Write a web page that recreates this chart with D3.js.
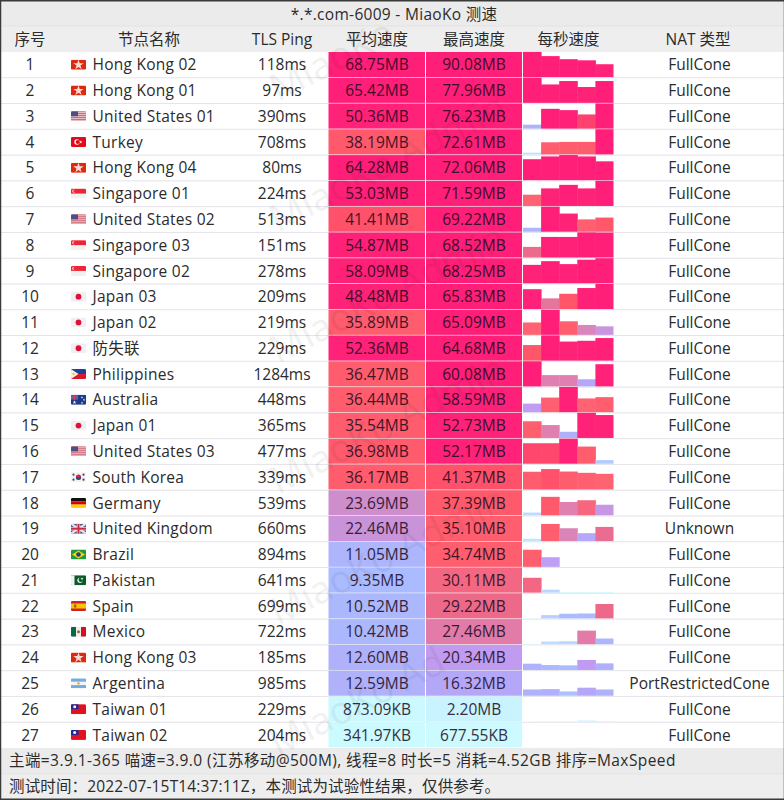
<!DOCTYPE html>
<html>
<head>
<meta charset="utf-8">
<script src="https://cdn.jsdelivr.net/npm/d3@7"></script>
<style>
  html, body { margin: 0; padding: 0; background: #fff; }
  svg { display: block; }
  text { font-family: "Open Sans", "Noto Sans CJK SC", sans-serif; font-size: 15.5px; fill: #2b2b2b; }
</style>
</head>
<body>
<script>
var titleText = "*.*.com-6009 - MiaoKo 测速";
var columnNames = ["序号", "节点名称", "TLS Ping", "平均速度", "最高速度", "每秒速度", "NAT 类型"];
var footerLines = [
  "主端=3.9.1-365 喵速=3.9.0 (江苏移动@500M), 线程=8 时长=5 消耗=4.52GB 排序=MaxSpeed",
  "测试时间：2022-07-15T14:37:11Z，本测试为试验性结果，仅供参考。"
];

var nodeNames = ["Hong Kong 02", "Hong Kong 01", "United States 01", "Turkey", "Hong Kong 04", "Singapore 01",
  "United States 02", "Singapore 03", "Singapore 02", "Japan 03", "Japan 02", "防失联", "Philippines", "Australia",
  "Japan 01", "United States 03", "South Korea", "Germany", "United Kingdom", "Brazil", "Pakistan", "Spain",
  "Mexico", "Hong Kong 03", "Argentina", "Taiwan 01", "Taiwan 02"];
var nodeFlags = ["hk", "hk", "us", "tr", "hk", "sg", "us", "sg", "sg", "jp", "jp", "jp", "ph", "au", "jp", "us", "kr",
  "de", "gb", "br", "pk", "es", "mx", "hk", "ar", "tw", "tw"];
var pings = ["118ms", "97ms", "390ms", "708ms", "80ms", "224ms", "513ms", "151ms", "278ms", "209ms", "219ms", "229ms",
  "1284ms", "448ms", "365ms", "477ms", "339ms", "539ms", "660ms", "894ms", "641ms", "699ms", "722ms", "185ms",
  "985ms", "229ms", "204ms"];
var avgSpeeds = ["68.75MB", "65.42MB", "50.36MB", "38.19MB", "64.28MB", "53.03MB", "41.41MB", "54.87MB", "58.09MB",
  "48.48MB", "35.89MB", "52.36MB", "36.47MB", "36.44MB", "35.54MB", "36.98MB", "36.17MB", "23.69MB", "22.46MB",
  "11.05MB", "9.35MB", "10.52MB", "10.42MB", "12.60MB", "12.59MB", "873.09KB", "341.97KB"];
var maxSpeeds = ["90.08MB", "77.96MB", "76.23MB", "72.61MB", "72.06MB", "71.59MB", "69.22MB", "68.52MB", "68.25MB",
  "65.83MB", "65.09MB", "64.68MB", "60.08MB", "58.59MB", "52.73MB", "52.17MB", "41.37MB", "37.39MB", "35.10MB",
  "34.74MB", "30.11MB", "29.22MB", "27.46MB", "20.34MB", "16.32MB", "2.20MB", "677.55KB"];
var natTypes = ["FullCone", "FullCone", "FullCone", "FullCone", "FullCone", "FullCone", "FullCone", "FullCone",
  "FullCone", "FullCone", "FullCone", "FullCone", "FullCone", "FullCone", "FullCone", "FullCone", "FullCone",
  "FullCone", "Unknown", "FullCone", "FullCone", "FullCone", "FullCone", "FullCone", "PortRestrictedCone",
  "FullCone", "FullCone"];
// speed for each of the five seconds, MB/s
var perSecond = [
  [90, 75, 64, 60, 46],
  [78, 57, 67.5, 49, 67.5],
  [12, 60, 56, 43, 76],
  [5, 35, 36, 36, 72.6],
  [60, 68, 72, 68, 54],
  [32, 50, 60, 50, 71.6],
  [11, 69, 50, 34, 39],
  [29, 56, 56, 68.5, 68],
  [50, 60, 52, 64, 68],
  [52, 28, 40, 55, 65.8],
  [32, 65, 35, 25.6, 22],
  [40, 64.7, 49, 51, 58],
  [60, 27, 27, 17, 53],
  [20, 34, 58.6, 32, 35],
  [35, 27, 13, 52.7, 48],
  [42.5, 42.5, 52, 35.6, 7.5],
  [36, 41.4, 36.4, 33.8, 31.8],
  [5.6, 37.4, 27, 30.5, 21.4],
  [4.7, 34.7, 26, 16, 28.7],
  [34.7, 19.5, 0.1, 0.1, 0.1],
  [30.1, 6, 1.5, 1.5, 1.5],
  [0.3, 6.7, 9.4, 10, 29.2],
  [0.3, 5.4, 6, 27.5, 11.5],
  [12.7, 10, 9.4, 20.3, 13.4],
  [12.7, 13.4, 8.7, 16.3, 12.7],
  [0.3, 0.5, 0.5, 2.2, 1],
  [0.3, 0.4, 0.3, 0.66, 0.1]
];

var colorStops = [0.5, 4, 9, 16, 20, 24, 27, 29, 32, 41, 46, 60];
var colorValues = ["#ccfbff", "#c4eaff", "#aabcff", "#b4a8f8", "#c09cf4", "#cf8dc8", "#df80b0", "#ec6a8c", "#ff6272",
  "#ff5568", "#ff2478", "#ff1f78"];

var width = 784, height = 800;
var top_ = 52, bottom_ = 748;
var svg = d3.select("body").append("svg").attr("width", width).attr("height", height);

var color = d3.scaleLinear().domain(colorStops).range(colorValues).clamp(true);
var rowY = d3.scaleBand().domain(d3.range(nodeNames.length)).range([top_, bottom_]);
var barX = d3.scaleBand().domain(d3.range(5)).range([523, 613.5]);
// bars are scaled to the row's own peak, but never below 51MB/s
var barScale = function(i) {
  var peak = Math.max(toMB(maxSpeeds[i]), 51);
  return d3.scaleLinear().domain([0, peak]).range([0, rowY.bandwidth() - 0.6]);
};

function toMB(label) {
  var n = parseFloat(label);
  return /KB$/.test(label) ? n / 1024 : n;
}

// chrome
var chrome = svg.append("g");
chrome.append("rect").attr("x", 0).attr("y", 0).attr("width", width).attr("height", 26).attr("fill", "#ebebeb");
chrome.append("rect").attr("x", 0).attr("y", 26).attr("width", width).attr("height", 26).attr("fill", "#eeeeee");
chrome.append("rect").attr("x", 0).attr("y", 748).attr("width", width).attr("height", 26).attr("fill", "#ebebeb");
chrome.append("rect").attr("x", 0).attr("y", 774).attr("width", width).attr("height", 26).attr("fill", "#eeeeee");
chrome.selectAll("line.h").data([26, 774]).enter().append("line")
    .attr("x1", 0).attr("x2", width).attr("y1", function(d) { return d; }).attr("y2", function(d) { return d; })
    .attr("stroke", "#e2e2e2");

// row rules
svg.selectAll("line.row").data(d3.range(1, nodeNames.length)).enter().append("line")
    .attr("class", "row")
    .attr("x1", 0).attr("x2", width)
    .attr("y1", function(d) { return rowY(d); }).attr("y2", function(d) { return rowY(d); })
    .attr("stroke", "#e0e0e6").attr("stroke-width", 0.9);

// one group per node
var rows = svg.selectAll("g.node").data(nodeNames).enter().append("g")
    .attr("class", "node")
    .attr("transform", function(d, i) { return "translate(0," + rowY(i) + ")"; });

var cellH = rowY.bandwidth() - 0.7;
var textY = rowY.bandwidth() / 2 + 5.4;

rows.append("rect").attr("x", 328.5).attr("y", 0).attr("width", 96.5).attr("height", cellH)
    .attr("fill", function(d, i) { return color(toMB(avgSpeeds[i])); });
rows.append("rect").attr("x", 426).attr("y", 0).attr("width", 96).attr("height", cellH)
    .attr("fill", function(d, i) { return color(toMB(maxSpeeds[i])); });

rows.each(function(d, i) {
  var y = barScale(i);
  d3.select(this).selectAll("rect.bar").data(perSecond[i]).enter().append("rect")
      .attr("class", "bar")
      .attr("x", function(v, k) { return barX(k); })
      .attr("width", function(v, k) { return barX.bandwidth() + (k < 4 ? 0.5 : 0); }) // overlap hides seams
      .attr("y", function(v) { return cellH - y(v); })
      .attr("height", function(v) { return y(v); })
      .attr("fill", function(v) { return color(v); });
});

function cellText(x, fn, anchor) {
  return rows.append("text").attr("x", x).attr("y", textY).attr("text-anchor", anchor || "middle").text(fn);
}
cellText(30, function(d, i) { return i + 1; });
cellText(92.5, function(d) { return d; }, "start").style("letter-spacing", "0.25px");
cellText(282, function(d, i) { return pings[i]; });
cellText(377, function(d, i) { return avgSpeeds[i]; }).style("fill", "#1b0a20").style("opacity", 0.85);
cellText(474, function(d, i) { return maxSpeeds[i]; }).style("fill", "#1b0a20").style("opacity", 0.85);
cellText(699.5, function(d, i) { return natTypes[i]; });

// flags, drawn in a 15x10 box
var flagDefs = svg.append("defs");
flagDefs.append("clipPath").attr("id", "flagClip").append("rect")
    .attr("width", 15).attr("height", 10).attr("rx", 1.2);

function star(g, cx, cy, r, fill) {
  g.append("path").attr("fill", fill)
      .attr("transform", "translate(" + cx + "," + cy + ")")
      .attr("d", d3.symbol().type(d3.symbolStar).size(r * r * 3.2)());
}
function box(g, x, y, w, h, fill) {
  g.append("rect").attr("x", x).attr("y", y).attr("width", w).attr("height", h).attr("fill", fill);
}
function disc(g, cx, cy, r, fill) {
  g.append("circle").attr("cx", cx).attr("cy", cy).attr("r", r).attr("fill", fill);
}
function poly(g, pts, fill) {
  g.append("polygon").attr("points", pts).attr("fill", fill);
}
var painters = {
  hk: function(g) { box(g, 0, 0, 15, 10, "#de2910"); star(g, 7.5, 5.2, 3.2, "#f7dcd6"); },
  us: function(g) {
    box(g, 0, 0, 15, 10, "#f1e4e6");
    d3.range(0, 10, 2).forEach(function(y) { box(g, 0, y, 15, 1, "#c8455a"); });
    box(g, 0, 0, 7, 5, "#4a4f86");
  },
  tr: function(g) { box(g, 0, 0, 15, 10, "#e30a17"); disc(g, 6, 5, 2.7, "#fff"); disc(g, 6.8, 5, 2.1, "#e30a17"); star(g, 9.8, 5, 1, "#fff"); },
  sg: function(g) {
    box(g, 0, 0, 15, 10, "#f1f1f1"); box(g, 0, 0, 15, 5, "#ee2536");
    disc(g, 3, 2.5, 1.7, "#fff"); disc(g, 3.8, 2.5, 1.6, "#ee2536");
  },
  jp: function(g) { box(g, 0, 0, 15, 10, "#f0f0f0"); disc(g, 7.5, 5, 2.9, "#e0103a"); },
  ph: function(g) {
    box(g, 0, 0, 15, 5, "#1f3f9c"); box(g, 0, 5, 15, 5, "#d8182c");
    poly(g, "0,0 7.5,5 0,10", "#f5f0d8"); disc(g, 2.6, 5, 1.1, "#f0c020");
  },
  au: function(g) {
    box(g, 0, 0, 15, 10, "#1f3a8a");
    box(g, 0, 0, 7, 5, "#5a5f9a"); box(g, 3, 0, 1, 5, "#e04050"); box(g, 0, 2, 7, 1, "#e04050");
    star(g, 3.5, 7.5, 1.2, "#fff"); star(g, 11, 2.5, 0.8, "#fff"); star(g, 13, 5, 0.8, "#fff"); star(g, 11, 8, 0.8, "#fff");
  },
  kr: function(g) {
    box(g, 0, 0, 15, 10, "#f3f3f3");
    disc(g, 7.5, 5, 2.6, "#c8283c");
    g.append("path").attr("d", "M4.9 5 A2.6 2.6 0 0 0 10.1 5 Z").attr("fill", "#2a4a8c");
    [[2.5, 2.5], [12.5, 2.5], [2.5, 7.5], [12.5, 7.5]].forEach(function(c) { disc(g, c[0], c[1], 1.1, "#4a4a50"); });
  },
  de: function(g) { box(g, 0, 0, 15, 3.4, "#111"); box(g, 0, 3.4, 15, 3.3, "#dd0000"); box(g, 0, 6.7, 15, 3.3, "#ffce00"); },
  gb: function(g) {
    box(g, 0, 0, 15, 10, "#3a4a8a");
    g.append("path").attr("d", "M0 0L15 10M15 0L0 10").attr("stroke", "#f3dfe2").attr("stroke-width", 2.2);
    box(g, 5.7, 0, 3.6, 10, "#f3dfe2"); box(g, 0, 3.2, 15, 3.6, "#f3dfe2");
    box(g, 6.5, 0, 2, 10, "#d02840"); box(g, 0, 4, 15, 2, "#d02840");
  },
  br: function(g) { box(g, 0, 0, 15, 10, "#1f9a3c"); poly(g, "7.5,1 14,5 7.5,9 1,5", "#f7d500"); disc(g, 7.5, 5, 2.3, "#1f3f8c"); },
  pk: function(g) {
    box(g, 0, 0, 15, 10, "#0b5a2a"); box(g, 0, 0, 3.5, 10, "#f2f2f2");
    disc(g, 9, 5, 2.6, "#fff"); disc(g, 9.9, 4.5, 2.3, "#0b5a2a"); star(g, 11, 3.5, 0.9, "#fff");
  },
  es: function(g) { box(g, 0, 0, 15, 10, "#d0202c"); box(g, 0, 2.5, 15, 5, "#f7c400"); box(g, 3.2, 3.5, 2, 3, "#b04030"); },
  mx: function(g) { box(g, 0, 0, 5, 10, "#0a6a48"); box(g, 5, 0, 5, 10, "#f3ece8"); box(g, 10, 0, 5, 10, "#ce1126"); disc(g, 7.5, 5, 1.5, "#8a6a50"); },
  ar: function(g) { box(g, 0, 0, 15, 10, "#74acdf"); box(g, 0, 3.3, 15, 3.4, "#f4f4f4"); disc(g, 7.5, 5, 1.2, "#d9a441"); },
  tw: function(g) { box(g, 0, 0, 15, 10, "#e2111f"); box(g, 0, 0, 7.5, 5, "#1a2a9c"); disc(g, 3.7, 2.5, 1.5, "#f2f2ff"); }
};
rows.append("g")
    .attr("transform", "translate(71," + (rowY.bandwidth() / 2 - 5.2) + ")")
    .attr("clip-path", "url(#flagClip)")
    .each(function(d, i) { painters[nodeFlags[i]](d3.select(this)); });

// title, headers, footer
svg.append("text").attr("x", 394).attr("y", 19.5).attr("text-anchor", "middle")
    .style("letter-spacing", "0.3px").text(titleText);
var headerX = [30, 149, 282, 377, 474, 568.5, 698];
svg.selectAll("text.header").data(columnNames).enter().append("text")
    .attr("class", "header")
    .attr("x", function(d, i) { return headerX[i]; })
    .attr("y", 44.5).attr("text-anchor", "middle")
    .text(function(d) { return d; });
var footerSpacing = ["0.42px", "0.15px"];
svg.selectAll("text.footer").data(footerLines).enter().append("text")
    .attr("class", "footer")
    .attr("x", 9).attr("y", function(d, i) { return 766 + i * 25.5; })
    .style("letter-spacing", function(d, i) { return footerSpacing[i]; })
    .text(function(d) { return d; });

// watermark, the top one is shorter so it stays inside the picture
var markTexts = ["MiaoKo", "MiaoKo Admin", "MiaoKo Admin", "MiaoKo Admin", "MiaoKo Admin", "MiaoKo Ad"];
svg.selectAll("text.mark").data(markTexts).enter().append("text")
    .attr("class", "mark")
    .attr("transform", function(d, i) { return "translate(278," + (102 + i * 131) + ") rotate(-27)"; })
    .style("font-size", "38px").style("fill", "#000").style("opacity", 0.05)
    .text(function(d) { return d; });

// image border
svg.append("rect").attr("x", 0.5).attr("y", 0.75).attr("width", width).attr("height", height - 1.5)
    .attr("fill", "none").attr("stroke", "#3a3a3a").attr("stroke-width", 1.5);
</script>
</body>
</html>
